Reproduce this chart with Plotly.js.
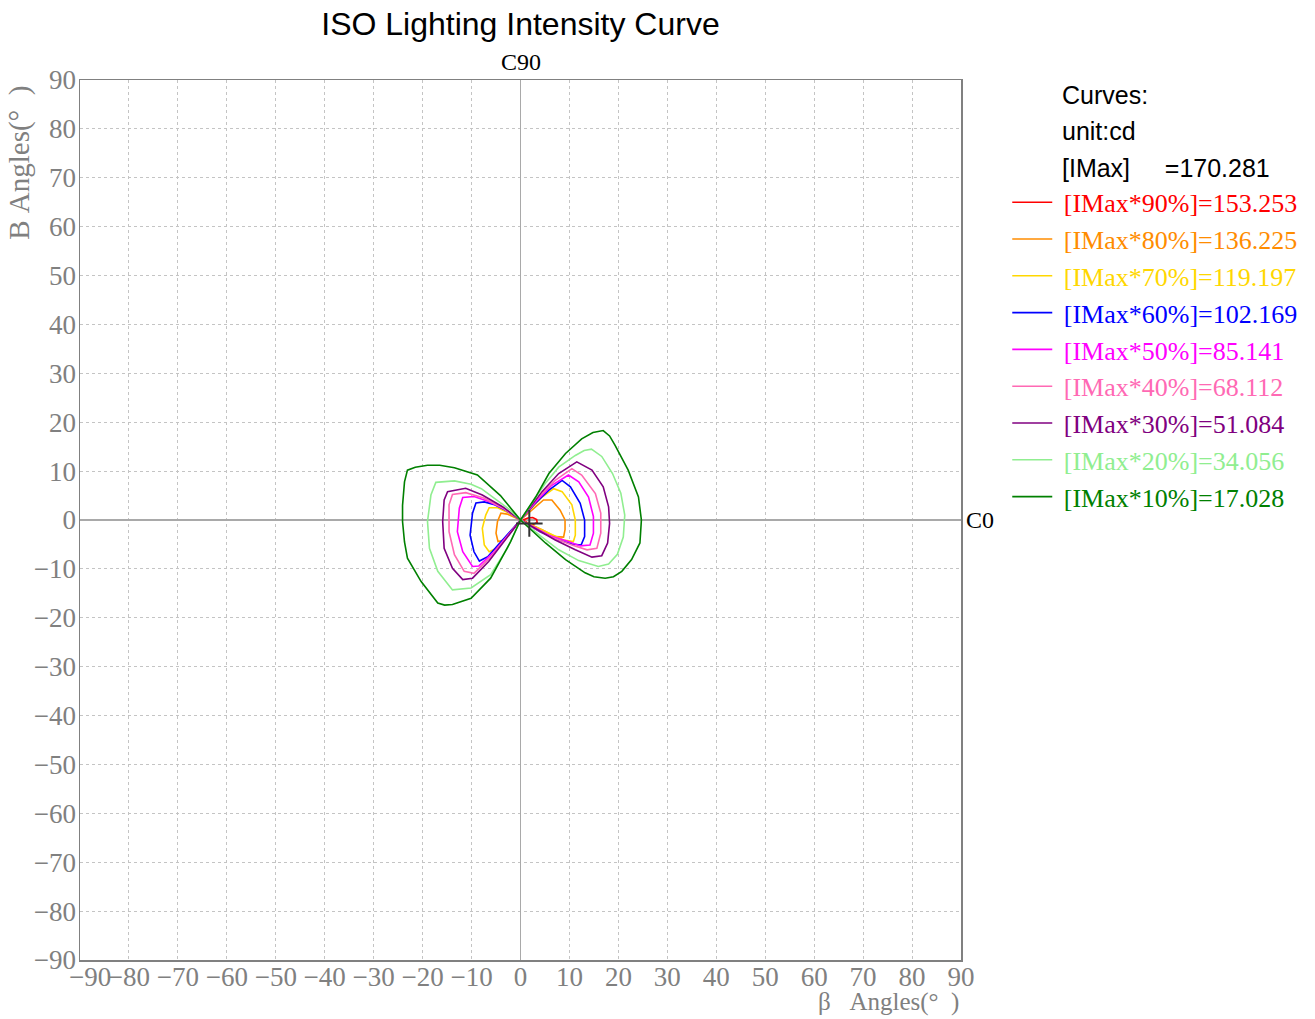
<!DOCTYPE html>
<html>
<head>
<meta charset="utf-8">
<script src="https://cdn.plot.ly/plotly-3.0.1.min.js"></script>
<style>html,body{margin:0;padding:0;background:#fff;}#chart{width:1315px;height:1019px;}</style>
</head>
<body>
<div id="chart"></div>
<script>
// ---- data (angles in degrees) ----
const seriesNames = ["[IMax*90%]=153.253","[IMax*80%]=136.225","[IMax*70%]=119.197","[IMax*60%]=102.169","[IMax*50%]=85.141","[IMax*40%]=68.112","[IMax*30%]=51.084","[IMax*20%]=34.056","[IMax*10%]=17.028"];
const seriesColors = ["#ff0000","#ff8c00","#ffd700","#0000ff","#ff00ff","#ff69b4","#800080","#90ee90","#008000"];
const headerLines = ["Curves:","unit:cd","[IMax]\u00a0\u00a0\u00a0\u00a0\u00a0=170.281"];
const tickVals = [-90,-80,-70,-60,-50,-40,-30,-20,-10,0,10,20,30,40,50,60,70,80,90];

const x90 = [0.5,1.5,2.5,3.3,3.4,2.6,1.5,0.5];
const y90 = [0,0.4,0.5,0.1,-0.5,-0.9,-0.6,0];

const x80 = [0,2.4,4.7,6.4,8.1,9.1,9.1,8.8,7.1,4.4,2.0,0,-1.5,-2.7,-4.0,-4.7,-5.0,-4.6,-3.3,-2.0,-0.8,0];
const y80 = [0,2.0,4.1,4.1,2.0,0,-2.0,-3.5,-3.4,-2.0,-0.9,0,0.8,1.2,1.4,-0.3,-2.7,-4.4,-4.1,-2.5,-1.0,0];

const x70 = [0,2.2,4.4,6.8,8.5,10.5,11.2,11.2,10.8,8.8,5.8,3.0,0,-2.5,-4.7,-6.4,-7.1,-7.8,-7.4,-6.4,-5.0,-3.0,-1.5,0];
const y70 = [0,2.4,4.7,6.4,5.8,3.1,0,-3.1,-4.4,-4.1,-2.7,-1.4,0,1.5,2.5,2.5,1.0,-1.7,-5.1,-6.5,-5.8,-3.5,-1.7,0];

const x60 = [0,2.8,5.8,8.5,10.2,12.2,13.1,13.1,12.4,10.5,7.8,4.0,0,-3.0,-5.5,-7.4,-9.1,-9.8,-10.3,-9.5,-8.4,-6.7,-4.5,-2.2,0];
const y60 = [0,3.2,6.1,8.1,6.8,3.4,0,-3.4,-5.1,-4.9,-4.1,-2.4,0,2.0,3.2,3.7,3.5,1.4,-3.1,-6.5,-8.4,-7.5,-5.0,-2.5,0];

const x50 = [0,3.2,6.4,9.8,11.9,13.9,14.9,14.9,14.2,12.2,9.8,6.0,3.0,0,-3.2,-6.5,-9.5,-11.8,-12.5,-12.9,-11.8,-9.8,-8.5,-5.5,-2.8,0];
const y50 = [0,3.8,7.1,9.2,7.8,4.7,0.7,-2.7,-5.1,-5.3,-4.4,-3.2,-1.6,0,2.2,3.8,4.8,4.6,2.4,-2.4,-6.5,-9.5,-9.4,-6.6,-3.4,0];

const x40 = [0,3.5,7.1,10.5,12.5,15.3,16.4,16.4,15.6,13.6,10.5,6.5,3.0,0,-3.5,-7.5,-11.2,-13.9,-14.6,-14.6,-13.5,-11.5,-9.5,-6.0,-3.0,0];
const y40 = [0,4.5,8.1,10.5,9.2,5.4,1.4,-2.7,-5.8,-6.1,-5.1,-3.6,-1.8,0,2.4,4.5,5.6,5.2,3.1,-2.4,-7.1,-10.5,-10.9,-7.5,-3.8,0];

const x30 = [0,2.5,4.4,7.8,11.5,14.6,16.9,18.0,18.2,17.8,16.6,14.6,11.2,7.1,3.5,0,-3.5,-7.8,-11.2,-14.9,-15.6,-15.9,-15.6,-13.9,-11.8,-9.8,-6.5,-3.0,0];
const y30 = [0,3.2,5.8,9.5,11.9,10.2,6.8,2.7,-0.7,-4.7,-7.3,-7.6,-6.1,-4.1,-2.0,0,2.6,5.1,6.5,5.8,4.1,-0.3,-5.8,-9.9,-12.2,-11.9,-8.5,-4.0,0];

const x20 = [0,2.5,5.0,7.8,11.2,13.0,14.5,16.6,18.8,20.5,21.3,21.0,19.8,18.0,15.9,11.9,7.8,4.0,0,-2.7,-5.4,-8.0,-10.1,-13.5,-17.3,-18.3,-19.0,-18.6,-16.9,-13.9,-10.1,-6.1,-2.7,0];
const y20 = [0,3.6,7.4,10.8,13.2,14.2,14.5,13.0,9.5,5.5,1.0,-3.5,-7.0,-9.0,-9.5,-8.3,-6.1,-3.2,0,2.5,4.5,6.4,7.3,8.0,7.7,5.1,-0.3,-5.8,-10.5,-14.3,-13.9,-11.2,-5.8,0];

const x10 = [0,1.5,3.1,5.8,9.2,12.5,14.8,16.9,18.2,19.3,22.0,24.1,24.7,24.4,22.7,20.7,19.0,17.3,15.0,13.2,9.2,5.1,2.0,0,-1.0,-4.1,-8.8,-13.5,-16.5,-19.0,-21.5,-23.1,-23.7,-24.1,-24.1,-23.7,-23.1,-20.3,-16.9,-15.5,-13.9,-10.1,-6.1,-2.0,0];
const y10 = [0,2.3,4.7,9.5,13.6,16.6,17.9,18.3,17.2,15.3,10.2,4.7,0,-4.7,-8.1,-10.5,-11.6,-11.9,-11.6,-10.8,-8.1,-4.7,-1.8,0,1.2,5.0,9.2,10.7,11.2,11.2,10.8,10.2,7.8,3.0,-0.3,-4.5,-7.8,-12.6,-17.0,-17.4,-17.3,-16.0,-11.9,-4.4,0];

const maxPointX = [1.8];
const maxPointY = [-0.7];

const xs = [x90,x80,x70,x60,x50,x40,x30,x20,x10];
const ys = [y90,y80,y70,y60,y50,y40,y30,y20,y10];

const traces = xs.map((xv,i)=>({
  type:'scatter', mode:'lines', x:xv, y:ys[i],
  name:'\u00a0<span style="color:'+seriesColors[i]+'">'+seriesNames[i]+'</span>',
  line:{color:seriesColors[i], width:1.6},
  hoverinfo:'skip'
}));
traces.push({
  type:'scatter', mode:'markers', x:maxPointX, y:maxPointY, showlegend:false,
  marker:{symbol:'cross-thin', size:19, line:{color:'#333', width:2}}, hoverinfo:'skip'
});

const fmtTick = v => v<0 ? '\u2212'+Math.abs(v) : String(v);
const tickFont = {family:'"Liberation Serif", serif', size:27, color:'#808080'};
const axisCommon = {
  range:[-90,90], tickmode:'array', tickvals:tickVals,
  showgrid:true, gridcolor:'#c4c4c4', griddash:'dot', gridwidth:1,
  zeroline:true, zerolinecolor:'#a9a9a9', zerolinewidth:1.5,
  showline:true, linecolor:'#808080', linewidth:1.5, mirror:true,
  ticks:'', tickfont:tickFont, fixedrange:true, tickangle:0
};

const annotations = [
  {text:'C90', xref:'paper', yref:'paper', x:0.5, y:1.0205, xanchor:'center', yanchor:'middle', showarrow:false, font:{family:'"Liberation Serif", serif', size:24, color:'#000'}},
  {text:'C0', xref:'paper', yref:'paper', x:1.003, y:0.5, xanchor:'left', yanchor:'middle', showarrow:false, font:{family:'"Liberation Serif", serif', size:24, color:'#000'}},
  {text:'B\u00a0Angles(\u00b0\u00a0\u00a0)', xref:'paper', yref:'paper', x:-0.068, y:0.906, xanchor:'center', yanchor:'middle', textangle:-90, showarrow:false, font:{family:'"Liberation Serif", serif', size:29, color:'#808080'}},
  {text:'\u03b2\u00a0\u00a0\u00a0Angles(\u00b0\u00a0\u00a0)', xref:'paper', yref:'paper', x:1.0, y:-0.0655, xanchor:'right', yanchor:'bottom', showarrow:false, font:{family:'"Liberation Serif", serif', size:25, color:'#808080'}}
];
const headerY = [0.983, 0.942, 0.900];
headerLines.forEach((t,i)=>annotations.push({
  text:t, xref:'paper', yref:'paper', x:1.1124, y:headerY[i], xanchor:'left', yanchor:'middle', showarrow:false,
  font:{family:'"Liberation Sans", Arial, sans-serif', size:25, color:'#000'}
}));

const layout = {
  width:1315, height:1019,
  margin:{l:80, r:354, t:80, b:59},
  paper_bgcolor:'#fff', plot_bgcolor:'#fff',
  title:{text:'ISO Lighting Intensity Curve', x:0.5, xref:'paper', y:1-24/1019, yref:'container', yanchor:'middle', xanchor:'center',
    font:{family:'"Liberation Sans", Arial, sans-serif', size:32, color:'#000'}},
  xaxis:Object.assign({}, axisCommon, {ticklabelstandoff:-8,
    ticktext:tickVals.map((v,i)=> i===0 ? '\u00a0\u00a0\u00a0'+fmtTick(v) : fmtTick(v))}),
  yaxis:Object.assign({}, axisCommon, {ticklabelstandoff:-3, ticktext:tickVals.map(fmtTick)}),
  showlegend:true,
  legend:{x:1.0525, y:0.8877, xanchor:'left', yanchor:'top', bgcolor:'rgba(0,0,0,0)', borderwidth:0,
    font:{family:'"Liberation Serif", serif', size:26, color:'#000'}, itemwidth:40, traceorder:'normal'},
  annotations:annotations
};

Plotly.newPlot('chart', traces, layout, {staticPlot:true, displayModeBar:false});
</script>
</body>
</html>
